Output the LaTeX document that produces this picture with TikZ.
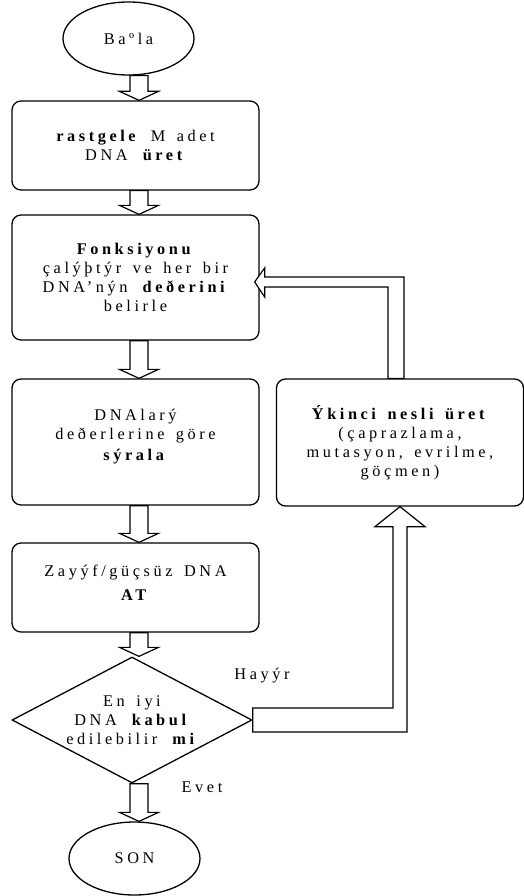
\documentclass[tikz,border=0pt]{standalone}
\usepackage{fontspec}
\setmainfont{Liberation Serif}[LetterSpace=22, WordSpace=1.5]
\usetikzlibrary{shapes.geometric,calc}

\begin{document}
\begin{tikzpicture}[
  x=1pt, y=1pt, line width=1.3pt,
  font=\fontsize{16.3}{19}\selectfont,
  box/.style={draw, rounded corners=9pt, minimum width=247pt, minimum height=#1, align=center, inner sep=0pt},
  term/.style={draw, ellipse, minimum width=131pt, minimum height=73pt, inner sep=0pt},
  cond/.style={draw, diamond, aspect=1.9, minimum width=240pt, minimum height=126pt, align=center, inner sep=0pt},
  lbl/.style={inner sep=0pt},
  blk/.style={draw, fill=white, line width=1.2pt, to path={let \p1=(\tikztostart), \p2=(\tikztotarget) in
    (\x1-9,\y1) -- (\x1-9,\y2+9) -- (\x1-19.5,\y2+9) -- (\x2,\y2) -- (\x1+19.5,\y2+9) -- (\x1+9,\y2+9) -- (\x1+9,\y1) -- cycle}}
]
  \useasboundingbox (0,0) rectangle (524,-896);
  \coordinate (axis) at (139,0);

  \node[term] (start) at (128.5,-38.5) {Baºla};
  \node[box=89pt] (gen0) at (135.5,-145.5) {\textbf{rastgele} M adet\\ DNA \textbf{üret}};
  \node[box=125pt] (fit) at (135.5,-277.5) {\textbf{Fonksiyonu}\\ çalýþtýr ve her bir\\ DNA’nýn \textbf{deðerini}\\ belirle};
  \node[box=126pt] (sort) at (135.5,-442) {DNAlarý\\ deðerlerine göre\\[2pt] \textbf{sýrala}\\[-5pt]};
  \node[box=89pt] (kill) at (135.5,-587.5) {Zayýf/güçsüz DNA\\[5pt] \textbf{AT}\\[-9pt]};
  \node[cond] (dec) at (132,-720) {En iyi\\ DNA \textbf{kabul}\\ edilebilir \textbf{mi}};
  \node[term] (stop) at (134.5,-858.5) {SON};
  \node[box=127pt] (next) at (400,-442.5) {\textbf{Ýkinci nesli üret}\\ (çaprazlama,\\ mutasyon, evrilme,\\ göçmen)};
  \node[lbl] (no) at (262,-676) {Hayýr};
  \node[lbl] (yes) at (202,-787) {Evet};

  \draw[blk] (axis |- start.south) to (axis |- gen0.north);
  \draw[blk] (axis |- gen0.south) to (axis |- fit.north);
  \draw[blk] (axis |- fit.south) to (axis |- sort.north);
  \draw[blk] (axis |- sort.south) to (axis |- kill.north);
  \draw[blk] (axis |- kill.south) to (axis |- dec.north);
  \draw[blk] (axis |- dec.south) to (axis |- stop.north);

  \coordinate (back) at ($(fit.east)+(-5,-4.5)$);
  \draw[draw, fill=white, line width=1.2pt] let \p1=(dec.east), \p2=(next.south) in
    (\x1,\y1+12) -- (\x2-7,\y1+12) -- (\x2-7,\y2-20) -- (\x2-25,\y2-20) -- (\x2,\y2)
    -- (\x2+25,\y2-20) -- (\x2+7,\y2-20) -- (\x2+7,\y1-12) -- (\x1,\y1-12) -- cycle;
  \draw[draw, fill=white, line width=1.2pt] let \p1=(next.north), \p2=(back) in
    (\x1-12,\y1) -- (\x1-12,\y2-5) -- (\x2+10,\y2-5) -- (\x2+10,\y2-15) -- (\x2,\y2)
    -- (\x2+10,\y2+14) -- (\x2+10,\y2+5) -- (\x1+4,\y2+5) -- (\x1+4,\y1) -- cycle;
\end{tikzpicture}
\end{document}
